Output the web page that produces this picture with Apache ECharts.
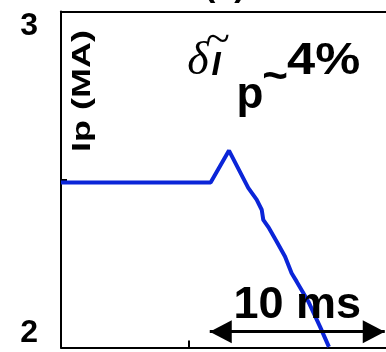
<!DOCTYPE html>
<html><head><meta charset="utf-8">
<script src="https://cdn.jsdelivr.net/npm/echarts@6/dist/echarts.min.js"></script>
<style>html,body{margin:0;padding:0;background:#fff}#c{width:386px;height:352px}</style>
</head><body><div id="c"></div>
<script>
// ---- data ----
const timeMs = [0, 8.55, 9.60, 10.70, 11.18, 11.47, 11.56, 11.89, 12.33, 12.80, 13.18, 13.47, 14.13, 14.80, 15.31];
const ipMA   = [2.491, 2.491, 2.586, 2.475, 2.440, 2.410, 2.380, 2.355, 2.315, 2.271, 2.221, 2.196, 2.137, 2.062, 2.002];
const yTickLabels = [2, 3];
const yMinorTicks = [2.5];
const xTicks = [7.3];
const scaleBarStart = 8.5;
const scaleBarEnd = 18.5;
const scaleBarLevel = 2.047;
const scaleBarLabel = '10 ms';
const yAxisTitle = 'Ip (MA)';
const panelTitle = '(a)';

const SANS = "'Liberation Sans', Arial, Helvetica, sans-serif";
const SERIF = "'Liberation Serif', 'Times New Roman', serif";
// arrow head whose tip sits at the symbol centre (box extended by an invisible move-to)
const ARROW_HEAD = 'path://M0,-2 M0,0 L1,2 L-1,2 Z';

const chart = echarts.init(document.getElementById('c'), null, {renderer: 'canvas'});
const axisLineStyle = {color: '#000', width: 2};

chart.setOption({
  animation: false,
  backgroundColor: '#fff',
  title: {
    text: panelTitle, left: 204, top: -30, padding: 0,
    textStyle: {fontSize: 34, fontWeight: 'bold', fontFamily: SANS, color: '#000'}
  },
  grid: {left: 61, top: 11.5, right: -25, bottom: 4.5, containLabel: false, outerBoundsMode: 'none'},
  xAxis: [{
    type: 'value', min: 0, max: 20, position: 'bottom',
    axisLine: {show: true, lineStyle: axisLineStyle},
    axisTick: {show: true, inside: true, length: 7, customValues: xTicks, lineStyle: axisLineStyle},
    axisLabel: {show: false},
    splitLine: {show: false}
  }, {
    type: 'value', min: 0, max: 20, position: 'top',
    axisLine: {show: true, lineStyle: axisLineStyle},
    axisTick: {show: false}, axisLabel: {show: false}, splitLine: {show: false}
  }],
  yAxis: {
    type: 'value', min: 2, max: 3, interval: 1,
    axisLine: {show: true, lineStyle: axisLineStyle},
    axisTick: {show: true, inside: true, length: 6, customValues: yMinorTicks, lineStyle: axisLineStyle},
    axisLabel: {
      show: true, customValues: yTickLabels, margin: 23,
      fontSize: 32, fontWeight: 'bold', fontFamily: SANS, color: '#000',
      formatter: v => (Number(v) === 3 ? '{t|' + v + '}' : '{b|' + v + '}'),
      rich: {
        t: {fontSize: 32, fontWeight: 'bold', fontFamily: SANS, color: '#000', padding: [30, 0, 0, 0]},
        b: {fontSize: 32, fontWeight: 'bold', fontFamily: SANS, color: '#000', padding: [0, 0, 28, 0]}
      }
    },
    splitLine: {show: false}
  },
  series: [{
    type: 'line',
    data: timeMs.map((t, i) => [t, ipMA[i]]),
    showSymbol: false,
    clip: true,
    lineStyle: {color: '#0b25d8', width: 4},
    z: 3,
    markLine: {
      silent: true,
      animation: false,
      symbol: [ARROW_HEAD, ARROW_HEAD],
      symbolSize: [23, 44],
      lineStyle: {color: '#000', width: 3, type: 'solid'},
      itemStyle: {color: '#000'},
      label: {
        show: true, position: 'insideMiddleTop', distance: 4,
        formatter: scaleBarLabel,
        fontSize: 45, fontWeight: 'bold', fontFamily: SANS, color: '#000'
      },
      emphasis: {disabled: true},
      data: [[{coord: [scaleBarStart, scaleBarLevel]}, {coord: [scaleBarEnd, scaleBarLevel]}]]
    }
  }],
  graphic: [
    {type: 'text', x: 83, y: 91, rotation: Math.PI / 2, scaleX: 1.44,
     style: {text: yAxisTitle, fontSize: 25, fontWeight: 'bold', fontFamily: SANS, fill: '#000', align: 'center', verticalAlign: 'middle'}},
    {type: 'text', x: 198, y: 62,
     style: {text: 'δ', fontSize: 46, fontStyle: 'italic', fontFamily: SERIF, fill: '#000', align: 'center', verticalAlign: 'middle'}},
    {type: 'text', x: 218, y: 41,
     style: {text: '~', fontSize: 44, fontFamily: SERIF, fill: '#000', align: 'center', verticalAlign: 'middle'}},
    {type: 'text', x: 216, y: 66,
     style: {text: 'I', fontSize: 33, fontWeight: 'bold', fontStyle: 'italic', fontFamily: SANS, fill: '#000', align: 'center', verticalAlign: 'middle'}},
    {type: 'text', x: 250, y: 96,
     style: {text: 'p', fontSize: 44, fontWeight: 'bold', fontFamily: SANS, fill: '#000', align: 'center', verticalAlign: 'middle'}},
    {type: 'text', x: 275, y: 78,
     style: {text: '~', fontSize: 44, fontWeight: 'bold', fontFamily: SANS, fill: '#000', align: 'center', verticalAlign: 'middle'}},
    {type: 'text', x: 287, y: 62, scaleX: 1.15,
     style: {text: '4%', fontSize: 44, fontWeight: 'bold', fontFamily: SANS, fill: '#000', align: 'left', verticalAlign: 'middle'}}
  ]
});
</script></body></html>
